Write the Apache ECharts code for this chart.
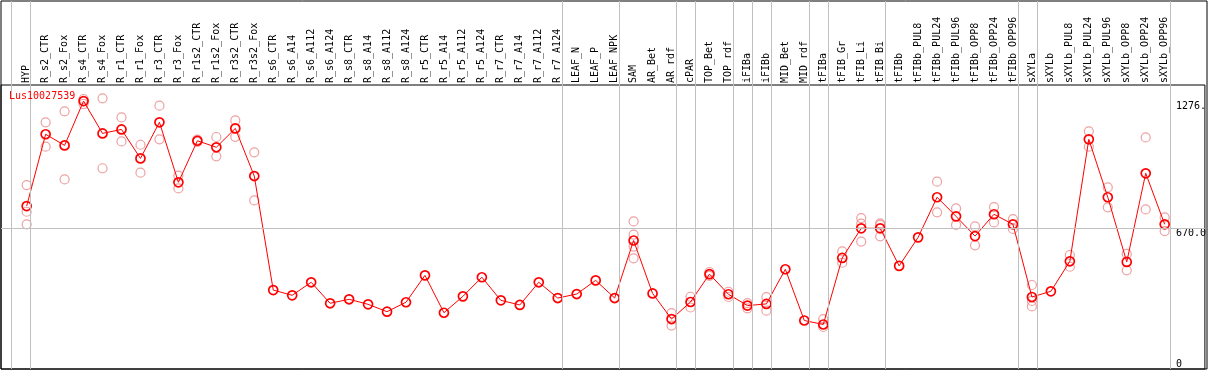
<!DOCTYPE html>
<html>
<head>
<meta charset="utf-8">
<script src="https://cdn.jsdelivr.net/npm/echarts@6/dist/echarts.min.js"></script>
<style>
  html, body { margin: 0; padding: 0; background: #fff; }
  #chart { width: 1209px; height: 370px; }
</style>
</head>
<body>
<div id="chart"></div>
<script>
// sample names, left to right
var categories = [
  'HYP', 'R_s2_CTR', 'R_s2_Fox', 'R_s4_CTR', 'R_s4_Fox', 'R_r1_CTR', 'R_r1_Fox',
  'R_r3_CTR', 'R_r3_Fox', 'R_r1s2_CTR', 'R_r1s2_Fox', 'R_r3s2_CTR', 'R_r3s2_Fox',
  'R_s6_CTR', 'R_s6_A14', 'R_s6_A112', 'R_s6_A124', 'R_s8_CTR', 'R_s8_A14',
  'R_s8_A112', 'R_s8_A124', 'R_r5_CTR', 'R_r5_A14', 'R_r5_A112', 'R_r5_A124',
  'R_r7_CTR', 'R_r7_A14', 'R_r7_A112', 'R_r7_A124', 'LEAF_N', 'LEAF_P', 'LEAF_NPK',
  'SAM', 'AR_Bet', 'AR_rdf', 'cPAR', 'TOP_Bet', 'TOP_rdf', 'iFIBa', 'iFIBb',
  'MID_Bet', 'MID_rdf', 'tFIBa', 'tFIB_Gr', 'tFIB_Li', 'tFIB_Bi', 'tFIBb',
  'tFIBb_PUL8', 'tFIBb_PUL24', 'tFIBb_PUL96', 'tFIBb_OPP8', 'tFIBb_OPP24', 'tFIBb_OPP96',
  'sXYLa', 'sXYLb', 'sXYLb_PUL8', 'sXYLb_PUL24', 'sXYLb_PUL96', 'sXYLb_OPP8',
  'sXYLb_OPP24', 'sXYLb_OPP96'
];

// mean expression (red line)
var means = [
  776, 1118, 1065, 1276, 1122, 1141, 1003, 1175, 889, 1087, 1056, 1146, 919,
  376, 351, 413, 313, 332, 308, 273, 318, 446, 268, 346, 437,
  327, 305, 413, 338, 357, 422, 338,
  612, 360, 238, 319, 452, 356, 302, 310,
  475, 231, 212, 529, 670, 670, 491,
  627, 818, 727, 633, 737, 689,
  343, 370, 513, 1094, 818, 510, 932, 689
];

// replicates (pink circles), null where hidden behind the mean
var rep1 = [
  876, 1175, 1227, 1286, 1289, 1198, 1068, 1254, 921, 1092, 1105, 1184, 1032,
  null, null, null, null, null, null, null, null, null, null, null, null,
  null, null, null, null, null, null, null,
  703, null, 266, 344, 462, 368, 314, 342,
  null, null, 238, 560, 719, 694, null,
  null, 892, 765, 679, 771, 714,
  400, null, 543, 1132, 865, 548, 1103, 722
];
var rep2 = [
  749, 1059, 903, 1262, 956, 1084, 935, 1094, 860, 1082, 1013, 1106, 803,
  null, null, null, null, null, null, null, null, null, null, null, null,
  null, null, null, null, null, null, null,
  640, null, 207, 293, 444, 343, 289, 278,
  null, null, 200, 506, 692, 686, null,
  null, 746, 686, 589, 698, 667,
  324, null, 487, 1059, 770, 470, 760, 657
];
var rep3 = [
  689, null, null, null, null, null, null, null, null, null, null, null, null,
  null, null, null, null, null, null, null, null, null, null, null, null,
  null, null, null, null, null, null, null,
  583, null, null, null, null, null, null, null,
  null, null, null, null, 607, 632, null,
  null, null, null, null, null, null,
  298, null, null, null, null, null, null, null
];
var rep4 = [
  null, null, null, null, null, null, null, null, null, null, null, null, null,
  null, null, null, null, null, null, null, null, null, null, null, null,
  null, null, null, null, null, null, null,
  527, null, null, null, null, null, null, null,
  null, null, null, null, null, null, null,
  null, null, null, null, null, null,
  null, null, null, null, null, null, null, null
];

// last sample index of each group (gray separators)
var groupEnds = [-1, 0, 28, 31, 34, 35, 37, 38, 39, 41, 42, 45, 52, 53, 60];

// y axis ticks on the right
var yTickValues = [0, 670, 1276];
var yTickLabels = ['0', '670.0', '1276.'];
var yMax = 1352.6;
var geneName = 'Lus10027539';

var MONO = 'DejaVu Sans Mono';
var X_MIN = -1.353, X_MAX = 62.12;

var chart = echarts.init(document.getElementById('chart'), null, { renderer: 'canvas' });

function toPoints(arr) {
  var out = [];
  arr.forEach(function (v, i) { if (v !== null) out.push([i, v]); });
  return out;
}

var repPoints = [].concat(toPoints(rep1), toPoints(rep2), toPoints(rep3), toPoints(rep4));

var option = {
  animation: false,
  backgroundColor: '#fff',
  title: {
    text: geneName,
    left: 9,
    top: 91,
    padding: 0,
    textStyle: { color: '#ff0000', fontSize: 10, fontWeight: 'normal', fontFamily: MONO }
  },
  grid: [
    // whole frame, label strip included
    { left: 1, right: 2, top: 1, bottom: 1, show: true, borderColor: '#000', borderWidth: 1 },
    // plotting area
    { left: 1, right: 2, top: 85, bottom: 1, show: true, borderColor: '#000', borderWidth: 1 }
  ],
  xAxis: [
    { gridIndex: 0, type: 'value', min: X_MIN, max: X_MAX, show: false },
    {
      gridIndex: 1, type: 'value', min: X_MIN, max: X_MAX, position: 'top',
      axisLine: { show: false },
      axisTick: { show: false },
      splitLine: { show: false },
      axisLabel: {
        customValues: categories.map(function (c, i) { return i; }),
        formatter: function (v) { return categories[v]; },
        rotate: 90,
        margin: 2,
        color: '#000',
        fontSize: 10,
        fontFamily: MONO
      }
    }
  ],
  yAxis: [
    { gridIndex: 0, type: 'value', min: 0, max: 1, show: false },
    {
      gridIndex: 1, type: 'value', min: 0, max: yMax, position: 'right',
      axisLine: { show: false },
      axisTick: { show: false },
      splitLine: { show: false },
      axisLabel: {
        customValues: yTickValues,
        formatter: function (v) { return yTickLabels[yTickValues.indexOf(v)]; },
        inside: true,
        align: 'left',
        verticalAlign: 'top',
        verticalAlignMinLabel: 'bottom',
        margin: 29,
        color: '#000',
        fontSize: 10,
        fontFamily: MONO
      }
    }
  ],
  series: [
    {
      // group separators
      type: 'line', xAxisIndex: 0, yAxisIndex: 0, data: [], z: 1, silent: true,
      markLine: {
        silent: true, symbol: 'none', animation: false,
        label: { show: false },
        lineStyle: { color: '#c0c0c0', width: 1, type: 'solid' },
        emphasis: { disabled: true },
        data: groupEnds.map(function (g) { return { xAxis: g + 0.21 }; })
      }
    },
    {
      // reference level line
      type: 'line', xAxisIndex: 1, yAxisIndex: 1, data: [], z: 1, silent: true,
      markLine: {
        silent: true, symbol: 'none', animation: false,
        label: { show: false },
        lineStyle: { color: '#c0c0c0', width: 1, type: 'solid' },
        emphasis: { disabled: true },
        data: [{ yAxis: yTickValues[1] }]
      }
    },
    {
      name: 'replicates',
      type: 'scatter', xAxisIndex: 1, yAxisIndex: 1, z: 2, silent: true,
      symbol: 'circle', symbolSize: 9,
      itemStyle: { color: 'rgba(255,255,255,0)', borderColor: '#e88a8a', borderWidth: 1.2 },
      data: repPoints
    },
    {
      name: geneName,
      type: 'line', xAxisIndex: 1, yAxisIndex: 1, z: 3, silent: true,
      symbol: 'circle', symbolSize: 9,
      itemStyle: { color: 'rgba(255,255,255,0)', borderColor: '#ff0000', borderWidth: 1.7 },
      lineStyle: { color: '#ff0000', width: 1 },
      data: means.map(function (v, i) { return [i, v]; })
    }
  ]
};

chart.setOption(option);
</script>
</body>
</html>
